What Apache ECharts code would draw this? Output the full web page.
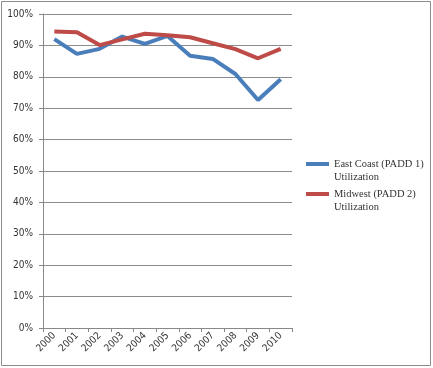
<!DOCTYPE html>
<html><head><meta charset="utf-8">
<script src="https://cdn.jsdelivr.net/npm/echarts@6/dist/echarts.min.js"></script>
<style>html,body{margin:0;padding:0;background:#fff}#c{width:433px;height:368px}</style>
</head><body><div id="c"></div>
<script>
const years = ['2000','2001','2002','2003','2004','2005','2006','2007','2008','2009','2010'];
const eastCoast = [92.0, 87.3, 88.9, 92.8, 90.5, 93.0, 86.7, 85.7, 80.9, 72.6, 79.2];
const midwest = [94.4, 94.2, 90.1, 91.9, 93.7, 93.2, 92.6, 90.7, 88.8, 85.9, 88.9];
const seriesNames = ['East Coast (PADD 1)\nUtilization', 'Midwest (PADD 2)\nUtilization'];
const colors = ['#4a7ebb', '#be4b48'];

const legendText = {fontFamily:'Liberation Serif', fontSize:10.5, color:'#333', lineHeight:13};
const legendFmt = name => ' \n' + name;
const chart = echarts.init(document.getElementById('c'), null, {renderer:'canvas'});
chart.setOption({
  animation:false,
  backgroundColor:'#fff',
  graphic:[{type:'rect', shape:{x:1.5,y:1.5,width:429,height:364}, style:{fill:'none', stroke:'#8c8c8c', lineWidth:1}}],
  grid:{left:43, right:141, top:14, bottom:40},
  legend:[
    {orient:'vertical', left:306, top:144.5, padding:0, itemWidth:23, itemHeight:4, itemGap:4, icon:'rect', textStyle:legendText, formatter:legendFmt, data:[seriesNames[0]]},
    {orient:'vertical', left:306, top:174.5, padding:0, itemWidth:23, itemHeight:4, itemGap:4, icon:'rect', textStyle:legendText, formatter:legendFmt, data:[seriesNames[1]]}
  ],
  xAxis:{
    type:'category', data:years, boundaryGap:true,
    axisLine:{lineStyle:{color:'#888', width:1}},
    axisTick:{show:true, length:4, lineStyle:{color:'#888'}},
    axisLabel:{rotate:45, fontFamily:'DejaVu Sans Condensed', fontSize:10, color:'#333', margin:6, interval:0}
  },
  yAxis:{
    type:'value', min:0, max:100, interval:10,
    axisLine:{show:true, lineStyle:{color:'#888', width:1}},
    axisTick:{show:true, length:4, lineStyle:{color:'#888'}},
    axisLabel:{formatter:'{value}%', fontFamily:'DejaVu Sans Condensed', fontSize:10, color:'#333', margin:10},
    splitLine:{lineStyle:{color:'#8c8c8c', width:1}}
  },
  series:[
    {name:seriesNames[0], type:'line', data:eastCoast, symbol:'none', lineStyle:{color:colors[0], width:4}, itemStyle:{color:colors[0]}},
    {name:seriesNames[1], type:'line', data:midwest, symbol:'none', lineStyle:{color:colors[1], width:4}, itemStyle:{color:colors[1]}}
  ]
});
</script></body></html>
